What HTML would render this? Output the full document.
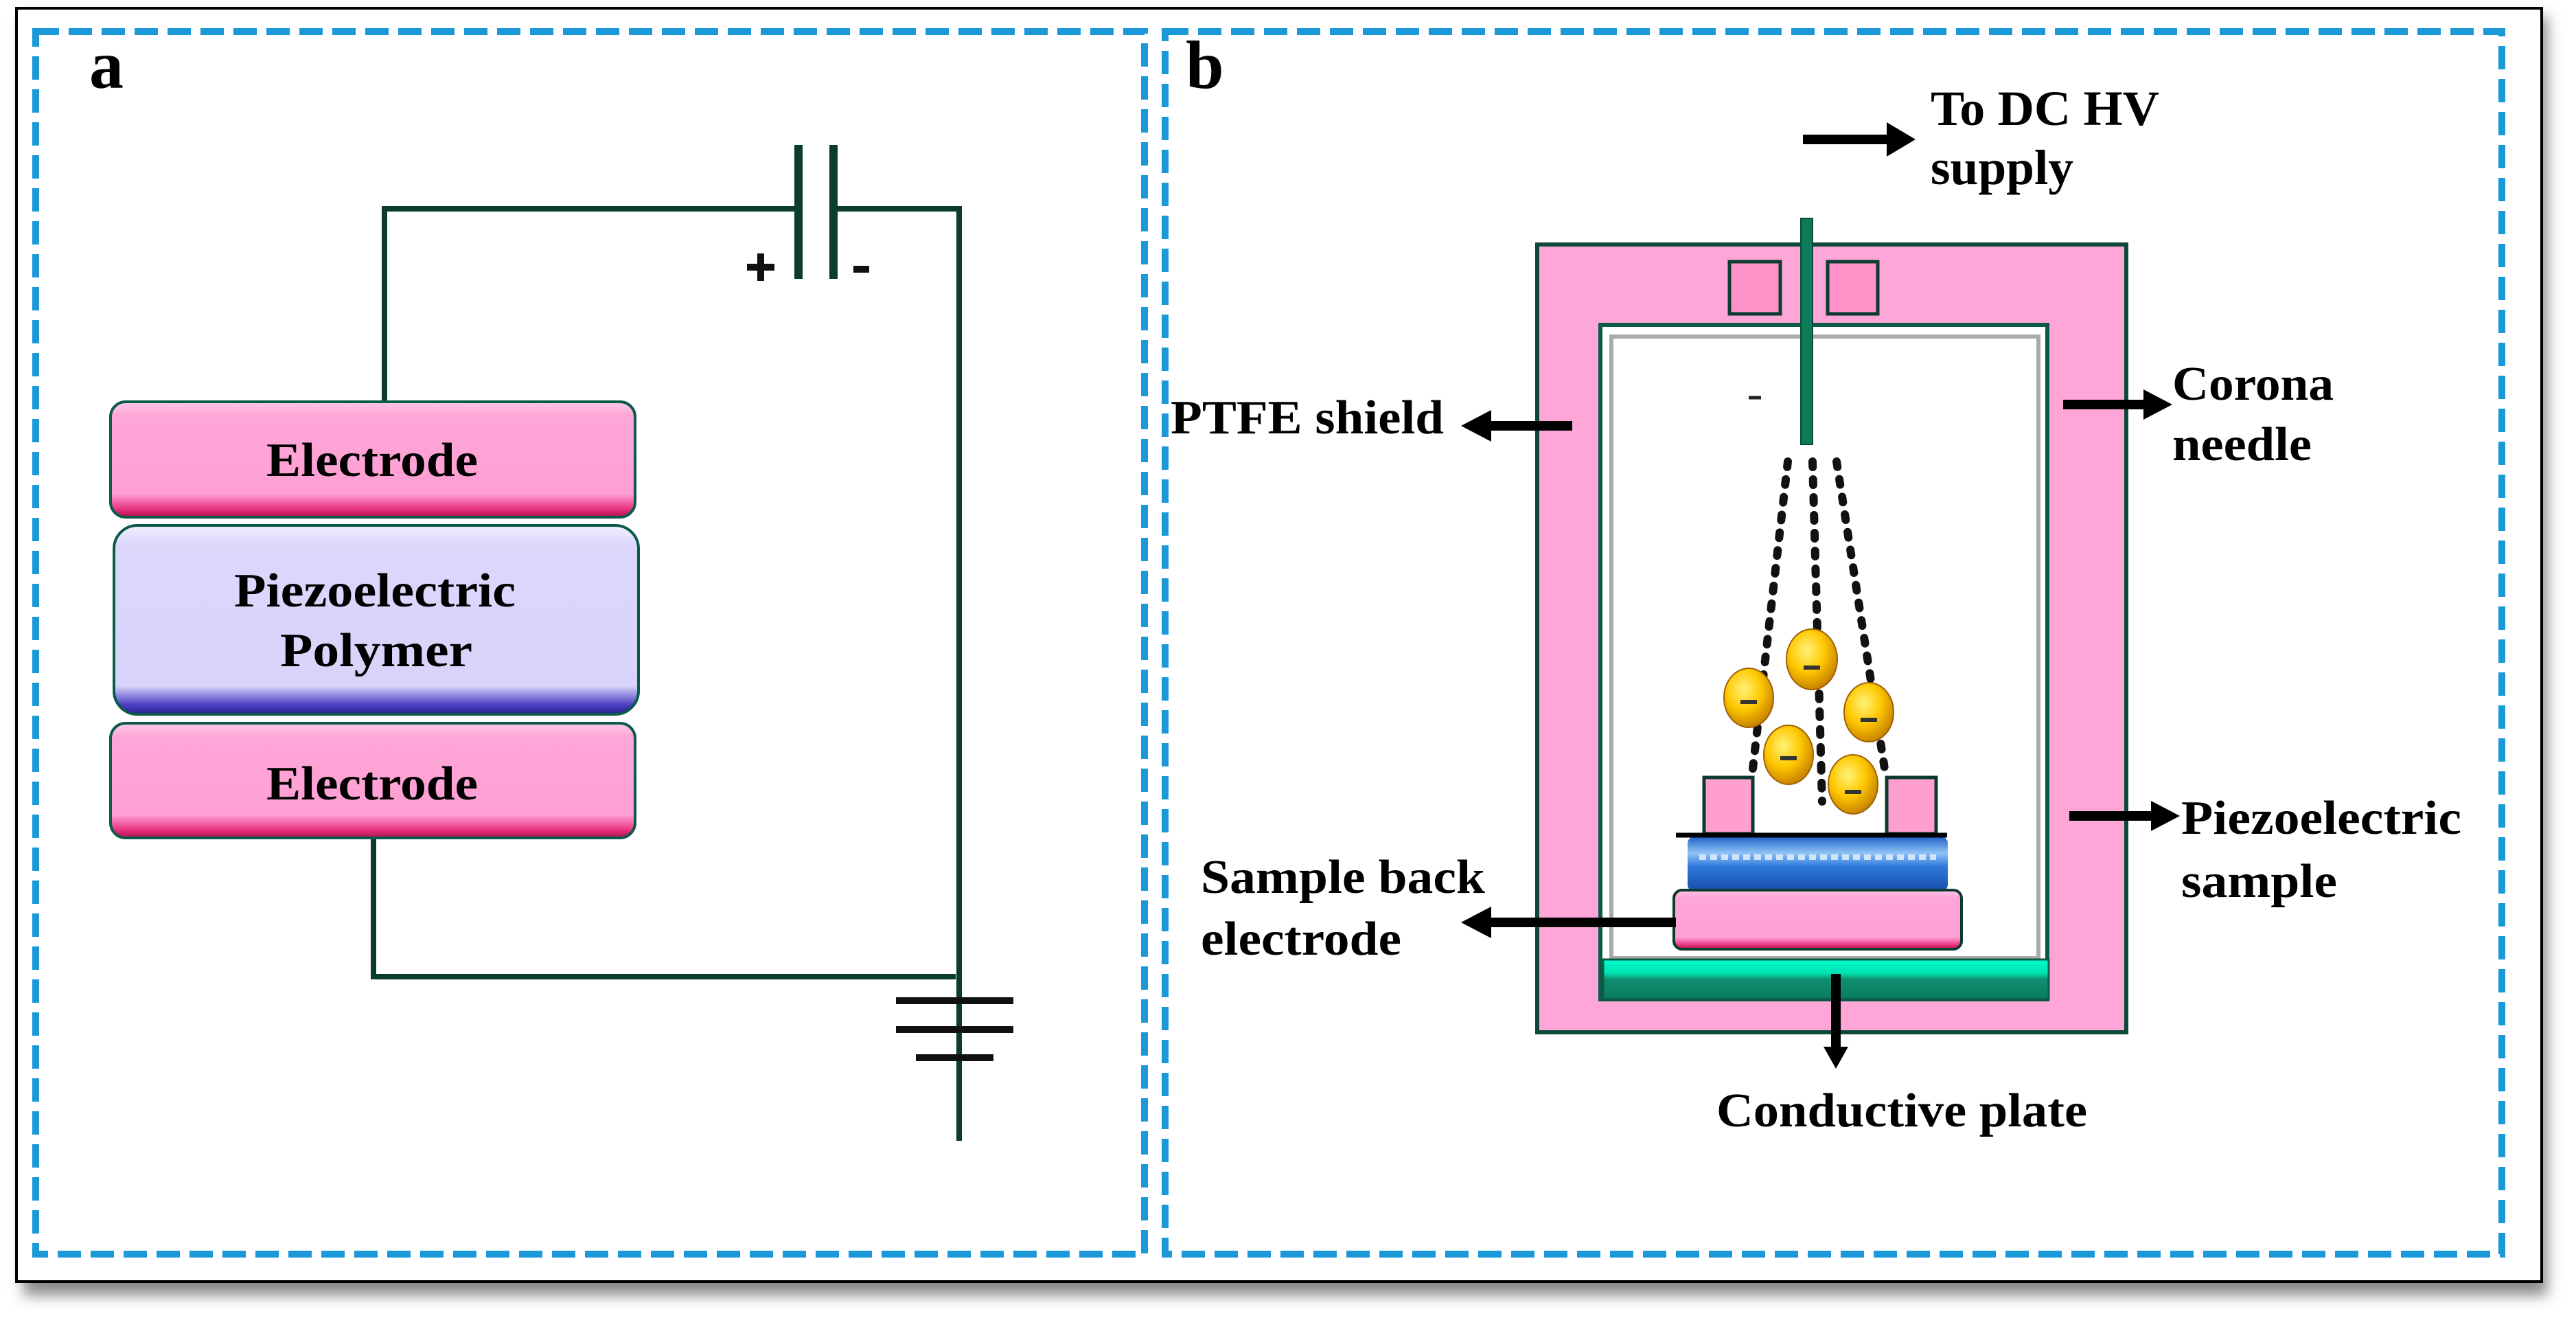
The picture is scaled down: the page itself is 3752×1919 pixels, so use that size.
<!DOCTYPE html>
<html><head><meta charset="utf-8"><style>
html,body{margin:0;padding:0;background:#fff;}
svg{display:block;}
text{font-family:"Liberation Serif",serif;font-weight:bold;fill:#000;}
</style></head><body>
<svg width="3752" height="1919" viewBox="0 0 3752 1919" xmlns="http://www.w3.org/2000/svg">
<defs>
<filter id="sh" x="-5%" y="-5%" width="110%" height="112%"><feGaussianBlur stdDeviation="10"/></filter>
<linearGradient id="pinkG" x1="0" y1="0" x2="0" y2="1">
<stop offset="0" stop-color="#ffc9e8"/><stop offset="0.12" stop-color="#ffa6d8"/><stop offset="0.8" stop-color="#ff9fd4"/><stop offset="0.93" stop-color="#e8337f"/><stop offset="1" stop-color="#b0104e"/></linearGradient>
<linearGradient id="lavG" x1="0" y1="0" x2="0" y2="1">
<stop offset="0" stop-color="#f2f0ff"/><stop offset="0.1" stop-color="#ddd7fc"/><stop offset="0.85" stop-color="#d9d3fb"/><stop offset="0.95" stop-color="#4a3fc0"/><stop offset="1" stop-color="#2a1f90"/></linearGradient>
<linearGradient id="greenG" x1="0" y1="0" x2="0" y2="1">
<stop offset="0" stop-color="#00ffd0"/><stop offset="0.35" stop-color="#00e0b0"/><stop offset="0.5" stop-color="#0f8f70"/><stop offset="1" stop-color="#0c7a5e"/></linearGradient>
<linearGradient id="blueG" x1="0" y1="0" x2="0" y2="1">
<stop offset="0" stop-color="#1f5fc8"/><stop offset="0.3" stop-color="#8ec3f5"/><stop offset="0.55" stop-color="#2f78dc"/><stop offset="1" stop-color="#174ea8"/></linearGradient>
<radialGradient id="elG" cx="0.4" cy="0.35" r="0.7">
<stop offset="0" stop-color="#fff27a"/><stop offset="0.5" stop-color="#ffc800"/><stop offset="1" stop-color="#c07a00"/></radialGradient>
</defs>

<rect x="34" y="24" width="3676" height="1862" fill="#888" filter="url(#sh)"/>
<rect x="24" y="12" width="3678" height="1854" fill="#fff" stroke="#000" stroke-width="4"/>

<rect x="52" y="46" width="1615" height="1780" fill="none" stroke="#1a98d8" stroke-width="10" stroke-dasharray="34 14"/>
<rect x="1697" y="46" width="1947" height="1780" fill="none" stroke="#1a98d8" stroke-width="10" stroke-dasharray="34 14"/>

<text x="130" y="128" font-size="100">a</text>
<text x="1727" y="128" font-size="100">b</text>

<g stroke="#0c3b30" stroke-width="8" fill="none">
<polyline points="1163,304 560,304 560,590"/>
<polyline points="1214,304 1397,304 1397,1661"/>
<polyline points="544,1220 544,1422 1392,1422"/>
<line x1="1163" y1="211" x2="1163" y2="406" stroke-width="12"/>
<line x1="1214" y1="211" x2="1214" y2="406" stroke-width="12"/>
</g>
<g stroke="#111" stroke-width="10">
<line x1="1305" y1="1457" x2="1476" y2="1457"/>
<line x1="1305" y1="1499" x2="1476" y2="1499"/>
<line x1="1334" y1="1540" x2="1447" y2="1540"/>
</g>
<g stroke="#111" stroke-width="10">
<line x1="1088" y1="389" x2="1128" y2="389"/>
<line x1="1108" y1="369" x2="1108" y2="409"/>
<line x1="1243" y1="392" x2="1266" y2="392"/>
</g>

<rect x="161" y="585" width="764" height="168" rx="22" fill="url(#pinkG)" stroke="#0a5a4a" stroke-width="4"/>
<rect x="166" y="765" width="764" height="275" rx="34" fill="url(#lavG)" stroke="#0a5a4a" stroke-width="4"/>
<rect x="161" y="1053" width="764" height="167" rx="22" fill="url(#pinkG)" stroke="#0a5a4a" stroke-width="4"/>
<text x="542" y="693" font-size="70" text-anchor="middle" textLength="308" lengthAdjust="spacingAndGlyphs">Electrode</text>
<text x="546" y="883" font-size="70" text-anchor="middle" textLength="410" lengthAdjust="spacingAndGlyphs">Piezoelectric</text>
<text x="548" y="970" font-size="70" text-anchor="middle" textLength="280" lengthAdjust="spacingAndGlyphs">Polymer</text>
<text x="542" y="1164" font-size="70" text-anchor="middle" textLength="308" lengthAdjust="spacingAndGlyphs">Electrode</text>

<rect x="2239" y="356" width="858" height="1147" fill="#ffa6d8" stroke="#0b4a3a" stroke-width="6"/>
<rect x="2331" y="473" width="651" height="982" fill="#fff" stroke="#0b5a45" stroke-width="6"/>
<rect x="2347" y="490" width="622" height="905" fill="none" stroke="#aaa" stroke-width="6"/>
<rect x="2519" y="381" width="74" height="76" fill="#ff92c8" stroke="#0b3a2e" stroke-width="5"/>
<rect x="2662" y="381" width="73" height="76" fill="#ff92c8" stroke="#0b3a2e" stroke-width="5"/>
<rect x="2335" y="1397" width="649" height="58" fill="url(#greenG)" stroke="#0b5a45" stroke-width="3"/>
<rect x="2623" y="318" width="17" height="329" fill="#0d7a5a" stroke="#0a4a3a" stroke-width="2"/>
<line x1="2547" y1="579" x2="2565" y2="579" stroke="#222" stroke-width="5"/>

<g stroke="#111" stroke-width="12" stroke-linecap="round" stroke-dasharray="8 18" fill="none">
<line x1="2604" y1="672" x2="2553" y2="1119"/>
<line x1="2640" y1="672" x2="2654" y2="1167"/>
<line x1="2675" y1="672" x2="2745" y2="1119"/>
</g>

<rect x="2482" y="1132" width="71" height="82" fill="#ff9fd0" stroke="#0b3a2e" stroke-width="5"/>
<rect x="2748" y="1132" width="72" height="82" fill="#ff9fd0" stroke="#0b3a2e" stroke-width="5"/>
<rect x="2458" y="1218" width="379" height="80" rx="10" fill="url(#blueG)"/>
<line x1="2475" y1="1248" x2="2820" y2="1248" stroke="#e8f4ff" stroke-width="8" stroke-dasharray="10 6" opacity="0.8"/>
<line x1="2441" y1="1216" x2="2836" y2="1216" stroke="#000" stroke-width="7"/>
<rect x="2438" y="1296" width="419" height="86" rx="12" fill="url(#pinkG)" stroke="#0b3a2e" stroke-width="4"/>

<g stroke="#a06000" stroke-width="2">
<ellipse cx="2639" cy="960" rx="37" ry="44" fill="url(#elG)"/>
<ellipse cx="2547" cy="1016" rx="36" ry="43" fill="url(#elG)"/>
<ellipse cx="2722" cy="1037" rx="36" ry="43" fill="url(#elG)"/>
<ellipse cx="2605" cy="1099" rx="36" ry="43" fill="url(#elG)"/>
<ellipse cx="2699" cy="1142" rx="36" ry="43" fill="url(#elG)"/>
</g>
<g stroke="#333" stroke-width="6">
<line x1="2627" y1="972" x2="2651" y2="972"/>
<line x1="2535" y1="1022" x2="2559" y2="1022"/>
<line x1="2710" y1="1048" x2="2734" y2="1048"/>
<line x1="2593" y1="1104" x2="2617" y2="1104"/>
<line x1="2687" y1="1153" x2="2711" y2="1153"/>
</g>

<g stroke="#000" stroke-width="14" fill="#000">
<line x1="2626" y1="203" x2="2760" y2="203"/>
<line x1="2290" y1="620" x2="2160" y2="620"/>
<line x1="3005" y1="589" x2="3135" y2="589"/>
<line x1="3014" y1="1188" x2="3145" y2="1188"/>
<line x1="2441" y1="1343" x2="2160" y2="1343"/>
<line x1="2674" y1="1418" x2="2674" y2="1530"/>
</g>
<g fill="#000">
<polygon points="2790,203 2748,178 2748,228"/>
<polygon points="2128,620 2172,597 2172,643"/>
<polygon points="3164,589 3122,567 3122,611"/>
<polygon points="3175,1188 3133,1166 3133,1210"/>
<polygon points="2128,1343 2172,1320 2172,1366"/>
<polygon points="2674,1556 2656,1524 2692,1524"/>
</g>

<text x="2812" y="182" font-size="72" font-weight="normal" textLength="333" lengthAdjust="spacingAndGlyphs">To DC HV</text>
<text x="2812" y="268" font-size="72" font-weight="normal" textLength="208" lengthAdjust="spacingAndGlyphs">supply</text>
<text x="1705" y="631" font-size="70" textLength="398" lengthAdjust="spacingAndGlyphs">PTFE shield</text>
<text x="3164" y="582" font-size="70" textLength="235" lengthAdjust="spacingAndGlyphs">Corona</text>
<text x="3164" y="670" font-size="70" textLength="203" lengthAdjust="spacingAndGlyphs">needle</text>
<text x="3177" y="1214" font-size="70" textLength="408" lengthAdjust="spacingAndGlyphs">Piezoelectric</text>
<text x="3177" y="1306" font-size="70" textLength="227" lengthAdjust="spacingAndGlyphs">sample</text>
<text x="1749" y="1300" font-size="70" textLength="414" lengthAdjust="spacingAndGlyphs">Sample back</text>
<text x="1749" y="1390" font-size="70" textLength="292" lengthAdjust="spacingAndGlyphs">electrode</text>
<text x="2500" y="1640" font-size="70" textLength="540" lengthAdjust="spacingAndGlyphs">Conductive plate</text>
</svg>
</body></html>
